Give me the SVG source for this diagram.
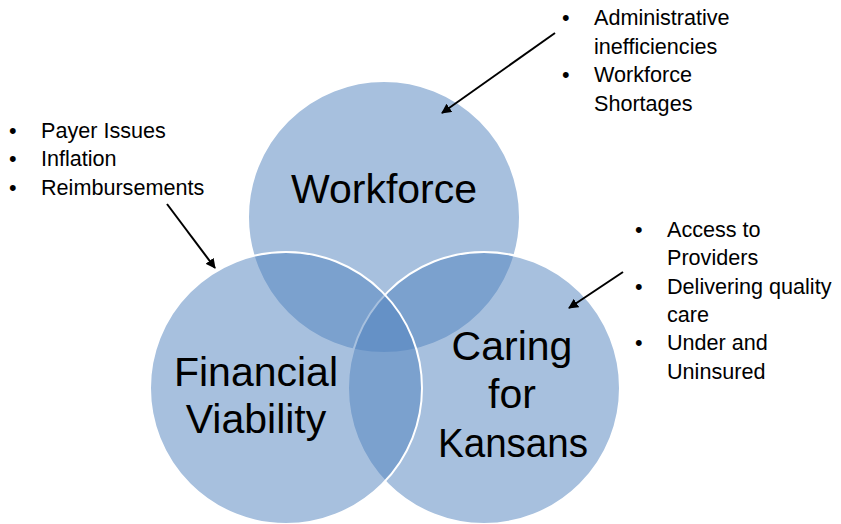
<svg xmlns="http://www.w3.org/2000/svg" width="841" height="524" viewBox="0 0 841 524">
  <defs>
    <marker id="head" viewBox="0 0 10 10" refX="9" refY="5" markerWidth="5" markerHeight="5" orient="auto" markerUnits="strokeWidth">
      <path d="M0,0 L10,5 L0,10 Z" fill="#000"/>
    </marker>
    <style>
      .ring { fill: #4F81BD; fill-opacity: 0.5; stroke: #fff; stroke-width: 2; }
      .big { font-family: "Liberation Sans", Arial, sans-serif; font-size: 41px; fill: #000; text-anchor: middle; }
      .note { font-family: "Liberation Sans", Arial, sans-serif; font-size: 21.6px; fill: #000; }
      .arrow { stroke: #000; stroke-width: 2; fill: none; marker-end: url(#head); }
    </style>
  </defs>
  <rect width="841" height="524" fill="#fff"/>

  <!-- Venn circles -->
  <g id="workforce">
    <circle class="ring" cx="384" cy="217" r="136"/>
    <text class="big" x="384" y="203">Workforce</text>
  </g>
  <g id="caring">
    <circle class="ring" cx="484" cy="388" r="136"/>
  </g>
  <g id="financial">
    <circle class="ring" cx="286" cy="388" r="136"/>
  </g>
  <!-- labels kept above all fills -->
  <g id="financial-label">
    <text class="big" x="256" y="386">Financial</text>
    <text class="big" x="256" y="433">Viability</text>
  </g>
  <g id="caring-label">
    <text class="big" x="512" y="360">Caring</text>
    <text class="big" x="512" y="408">for</text>
    <text class="big" x="513" y="457" textLength="150" lengthAdjust="spacingAndGlyphs">Kansans</text>
  </g>

  <!-- callout lists -->
  <g id="notes-workforce" class="note">
    <text x="562" y="25">•</text>
    <text x="594" y="25">Administrative</text>
    <text x="594" y="53.5">inefficiencies</text>
    <text x="562" y="82">•</text>
    <text x="594" y="82">Workforce</text>
    <text x="594" y="110.5">Shortages</text>
  </g>
  <g id="notes-financial" class="note">
    <text x="9" y="138">•</text>
    <text x="41" y="138">Payer Issues</text>
    <text x="9" y="166">•</text>
    <text x="41" y="166">Inflation</text>
    <text x="9" y="194.5">•</text>
    <text x="41" y="194.5">Reimbursements</text>
  </g>
  <g id="notes-caring" class="note">
    <text x="635" y="237">•</text>
    <text x="667" y="237">Access to</text>
    <text x="667" y="265">Providers</text>
    <text x="635" y="293.5">•</text>
    <text x="667" y="293.5">Delivering quality</text>
    <text x="667" y="322">care</text>
    <text x="635" y="350">•</text>
    <text x="667" y="350">Under and</text>
    <text x="667" y="378.5">Uninsured</text>
  </g>

  <!-- connectors -->
  <g id="connectors">
    <line class="arrow" x1="555" y1="33" x2="442" y2="113"/>
    <line class="arrow" x1="167" y1="204" x2="215" y2="268"/>
    <line class="arrow" x1="623" y1="272" x2="569" y2="308"/>
  </g>
</svg>
